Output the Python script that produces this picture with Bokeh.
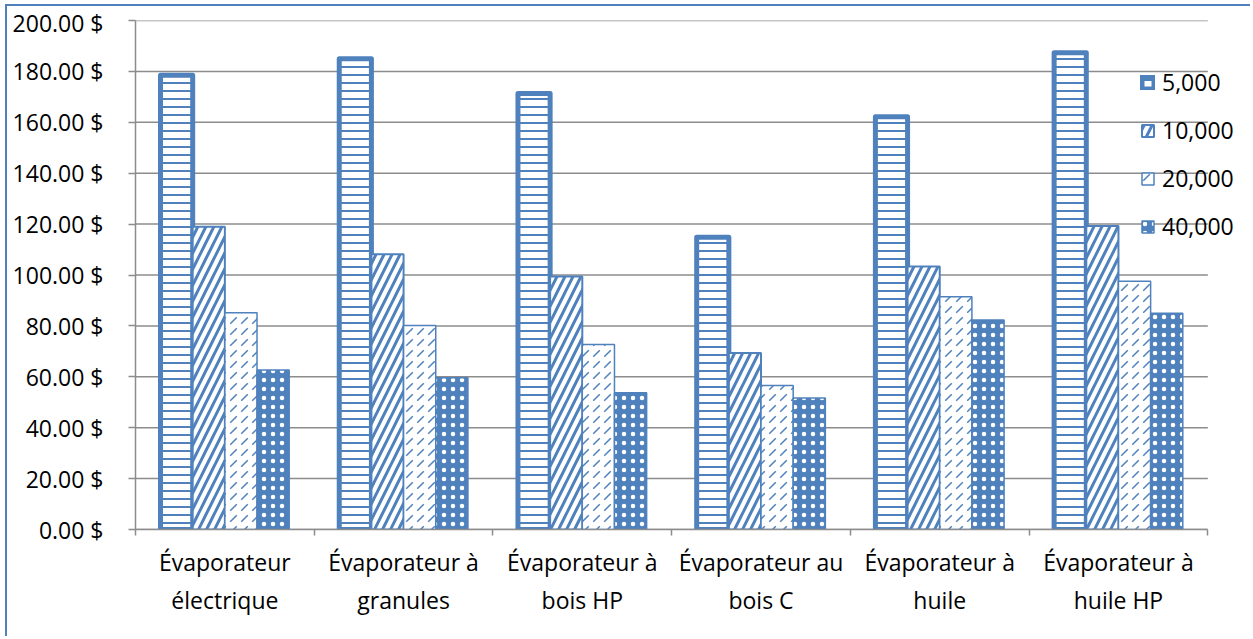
import numpy as np
from bokeh.plotting import figure
from bokeh.models import (Range1d, FixedTicker, PrintfTickFormatter, Legend, LegendItem)
from bokeh.embed import file_html
from bokeh.resources import INLINE

# Coût par évaporateur selon la capacité
categories = ["Évaporateur\nélectrique", "Évaporateur à\ngranules", "Évaporateur à\nbois HP",
              "Évaporateur au\nbois C", "Évaporateur à\nhuile", "Évaporateur à\nhuile HP"]
series_names = ["5,000", "10,000", "20,000", "40,000"]
cost_5000 = [178.5, 185.0, 171.3, 114.8, 162.2, 187.3]
cost_10000 = [119.0, 108.2, 99.4, 69.4, 103.3, 119.3]
cost_20000 = [85.2, 80.2, 72.7, 56.6, 91.5, 97.5]
cost_40000 = [62.7, 59.6, 53.7, 51.7, 82.3, 85.0]
y_ticks = [0, 20, 40, 60, 80, 100, 120, 140, 160, 180, 200]

BLUE = "#4F81BD"
GRID = "#8C8C8C"
FONT = "Open Sans"
FONT_SIZE = "23px"

n = len(categories)
centers = np.arange(n) + 0.5
bar_w = 0.18
# extra room on the right of the category area for the legend
x_end = n + 0.25

p = figure(width=1245, height=632, output_backend="svg", toolbar_location=None,
           x_range=Range1d(0, x_end), y_range=Range1d(y_ticks[0], y_ticks[-1]),
           min_border_left=128, min_border_top=14, min_border_right=0, min_border_bottom=109)
p.styles = {"margin-left": "5px", "margin-top": "4px",
            "border-left": f"2px solid {BLUE}", "border-top": f"2px solid {BLUE}"}
p.outline_line_color = None
p.background_fill_color = "white"
p.border_fill_color = "white"

# horizontal grid lines over the category area only
grid = p.segment(x0=[0] * len(y_ticks), x1=[n] * len(y_ticks), y0=y_ticks, y1=y_ticks,
                 line_color=GRID, line_width=1.5)
grid.level = "underlay"

styles = [
    dict(fill_color="white", line_color=BLUE, line_width=5, line_join="round",
         hatch_pattern="horizontal_line", hatch_color=BLUE, hatch_scale=8, hatch_weight=2),
    dict(fill_color="white", line_color=BLUE, line_width=2,
         hatch_pattern="right_diagonal_line", hatch_color=BLUE, hatch_scale=16, hatch_weight=3),
    dict(fill_color="white", line_color=BLUE, line_width=1.5,
         hatch_pattern="right_diagonal_dash", hatch_color=BLUE, hatch_scale=11, hatch_weight=1.5),
    dict(fill_color=BLUE, line_color=BLUE, line_width=1.5,
         hatch_pattern="dot", hatch_color="white", hatch_scale=9, hatch_weight=1),
]
all_series = [cost_5000, cost_10000, cost_20000, cost_40000]

items = []
for k, (vals, st) in enumerate(zip(all_series, styles)):
    offset = (k - 1.5) * bar_w
    r = p.vbar(x=centers + offset, top=vals, bottom=0, width=bar_w, **st)
    items.append(LegendItem(label=series_names[k], renderers=[r]))

# axes
p.yaxis.ticker = FixedTicker(ticks=y_ticks)
p.yaxis.formatter = PrintfTickFormatter(format="%.2f $")
p.yaxis.axis_line_color = GRID
p.yaxis.axis_line_width = 1.5
p.yaxis.major_tick_line_color = GRID
p.yaxis.major_tick_line_width = 1.5
p.yaxis.major_tick_out = 7
p.yaxis.major_tick_in = 0
p.yaxis.minor_tick_line_color = None
p.yaxis.major_label_standoff = 25
p.yaxis.major_label_text_font = FONT
p.yaxis.major_label_text_font_size = FONT_SIZE
p.yaxis.major_label_text_color = "black"

p.xaxis.bounds = (0, n)
p.xaxis.ticker = FixedTicker(ticks=list(centers), minor_ticks=list(range(n + 1)))
p.xaxis.major_label_overrides = {float(c): lab for c, lab in zip(centers, categories)}
p.xaxis.axis_line_color = GRID
p.xaxis.axis_line_width = 1.5
p.xaxis.major_tick_line_color = None
p.xaxis.major_tick_out = 0
p.xaxis.major_tick_in = 0
p.xaxis.minor_tick_line_color = GRID
p.xaxis.minor_tick_line_width = 1.5
p.xaxis.minor_tick_out = 6
p.xaxis.minor_tick_in = 0
p.xaxis.major_label_standoff = 10
p.xaxis.major_label_text_font = FONT
p.xaxis.major_label_text_font_size = FONT_SIZE
p.xaxis.major_label_text_color = "black"

p.xgrid.grid_line_color = None
p.ygrid.grid_line_color = None

legend = Legend(items=items, location=(1005, 287), orientation="vertical",
                background_fill_alpha=0, border_line_color=None,
                padding=0, margin=0, glyph_width=15, glyph_height=15,
                label_height=15, spacing=16, label_standoff=7,
                label_text_font=FONT, label_text_font_size=FONT_SIZE, label_text_color="black")
p.add_layout(legend)

open("out.html", "w").write(file_html(p, INLINE))
